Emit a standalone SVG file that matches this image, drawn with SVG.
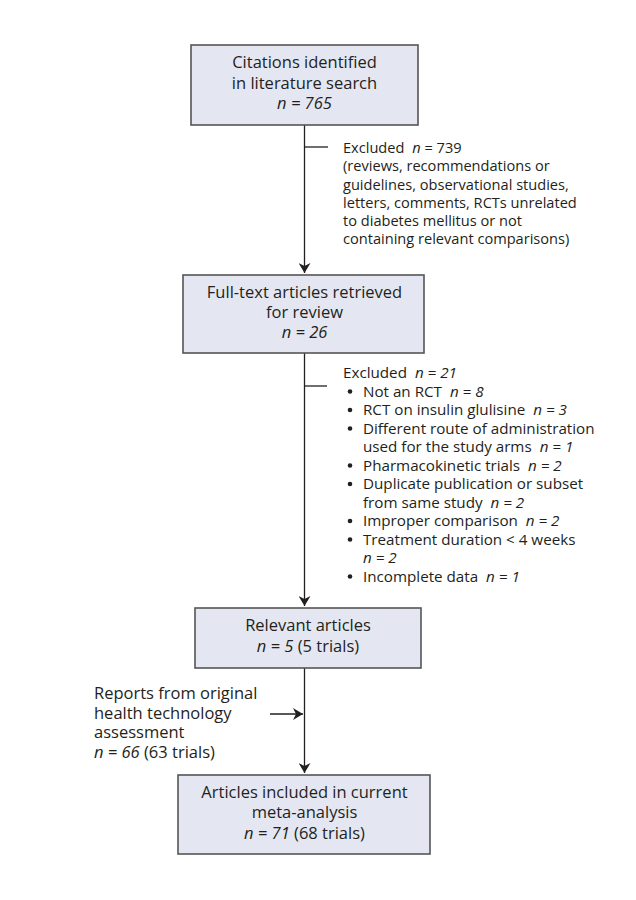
<svg xmlns="http://www.w3.org/2000/svg" width="636" height="900" viewBox="0 0 636 900">
<style>
text{font-family:"Open Sans","Noto Sans","DejaVu Sans",sans-serif;font-size:16.5px;fill:#231f20}
.c{text-anchor:middle}
.i{font-style:italic}
.s1{font-size:14.6px}
.s2{font-size:15.2px}
.bl{fill:#231f20}
.box{fill:#e4e7f2;stroke:#555;stroke-width:1.6}
.ln{stroke:#231f20;stroke-width:1.3;fill:none}
</style>
<defs>
<marker id="ah" markerWidth="12" markerHeight="12" refX="10" refY="6" orient="auto" markerUnits="userSpaceOnUse">
<path d="M0,0 L10,6 L0,12 L3,6 Z" fill="#231f20"/>
</marker>
</defs>
<rect width="636" height="900" fill="#fff"/>
<g id="connectors">
<line class="ln" x1="304.5" y1="125" x2="304.5" y2="273" marker-end="url(#ah)"/>
<line class="ln" x1="304.5" y1="147" x2="328" y2="147"/>
<line class="ln" x1="304.5" y1="353" x2="304.5" y2="606" marker-end="url(#ah)"/>
<line class="ln" x1="304.5" y1="386" x2="327" y2="386"/>
<line class="ln" x1="304.5" y1="668" x2="304.5" y2="773" marker-end="url(#ah)"/>
<line class="ln" x1="270" y1="714" x2="303" y2="714" marker-end="url(#ah)"/>
</g>
<g id="citations">
<rect class="box" x="191" y="45" width="227" height="80"/>
<text class="c" x="304.5" y="68">Citations identified</text>
<text class="c" x="304.5" y="89">in literature search</text>
<text class="c i" x="304.5" y="109">n = 765</text>
</g>
<g id="excluded1">
<text class="s1" x="343" y="153">Excluded <tspan class="i" dx="4">n</tspan> = 739</text>
<text class="s1" x="343" y="171">(reviews, recommendations or</text>
<text class="s1" x="343" y="189.5">guidelines, observational studies,</text>
<text class="s1" x="343" y="207.5">letters, comments, RCTs unrelated</text>
<text class="s1" x="343" y="226">to diabetes mellitus or not</text>
<text class="s1" x="343" y="244">containing relevant comparisons)</text>
</g>
<g id="fulltext">
<rect class="box" x="183" y="275" width="241" height="78"/>
<text class="c" x="304.5" y="298">Full-text articles retrieved</text>
<text class="c" x="304.5" y="318">for review</text>
<text class="c i" x="304.5" y="338">n = 26</text>
</g>
<g id="excluded2">
<text class="s2" x="343" y="378">Excluded <tspan class="i" dx="4">n = 21</tspan></text>
<circle class="bl" cx="350" cy="391.5" r="2.3"/><text class="s2" x="363" y="396.5">Not an RCT <tspan class="i" dx="4">n = 8</tspan></text>
<circle class="bl" cx="350" cy="410" r="2.3"/><text class="s2" x="363" y="415">RCT on insulin glulisine <tspan class="i" dx="4">n = 3</tspan></text>
<circle class="bl" cx="350" cy="428.5" r="2.3"/><text class="s2" x="363" y="433.5">Different route of administration</text>
<text class="s2" x="363" y="452">used for the study arms <tspan class="i" dx="4">n = 1</tspan></text>
<circle class="bl" cx="350" cy="465.5" r="2.3"/><text class="s2" x="363" y="470.5">Pharmacokinetic trials <tspan class="i" dx="4">n = 2</tspan></text>
<circle class="bl" cx="350" cy="484" r="2.3"/><text class="s2" x="363" y="489">Duplicate publication or subset</text>
<text class="s2" x="363" y="507.5">from same study <tspan class="i" dx="4">n = 2</tspan></text>
<circle class="bl" cx="350" cy="521" r="2.3"/><text class="s2" x="363" y="526">Improper comparison <tspan class="i" dx="4">n = 2</tspan></text>
<circle class="bl" cx="350" cy="539.5" r="2.3"/><text class="s2" x="363" y="544.5">Treatment duration &lt; 4 weeks</text>
<text class="s2 i" x="363" y="563">n = 2</text>
<circle class="bl" cx="350" cy="576.5" r="2.3"/><text class="s2" x="363" y="581.5">Incomplete data <tspan class="i" dx="4">n = 1</tspan></text>
</g>
<g id="relevant">
<rect class="box" x="195" y="608" width="226" height="60"/>
<text class="c" x="308" y="631">Relevant articles</text>
<text class="c" x="308" y="652"><tspan class="i">n = 5</tspan> (5 trials)</text>
</g>
<g id="reports">
<text x="94" y="699">Reports from original</text>
<text x="94" y="718.5">health technology</text>
<text x="94" y="738">assessment</text>
<text x="94" y="757.5"><tspan class="i">n = 66</tspan> (63 trials)</text>
</g>
<g id="included">
<rect class="box" x="178" y="775" width="252" height="79"/>
<text class="c" x="304.5" y="798">Articles included in current</text>
<text class="c" x="304.5" y="818">meta-analysis</text>
<text class="c" x="304.5" y="839"><tspan class="i">n = 71</tspan> (68 trials)</text>
</g>
</svg>
